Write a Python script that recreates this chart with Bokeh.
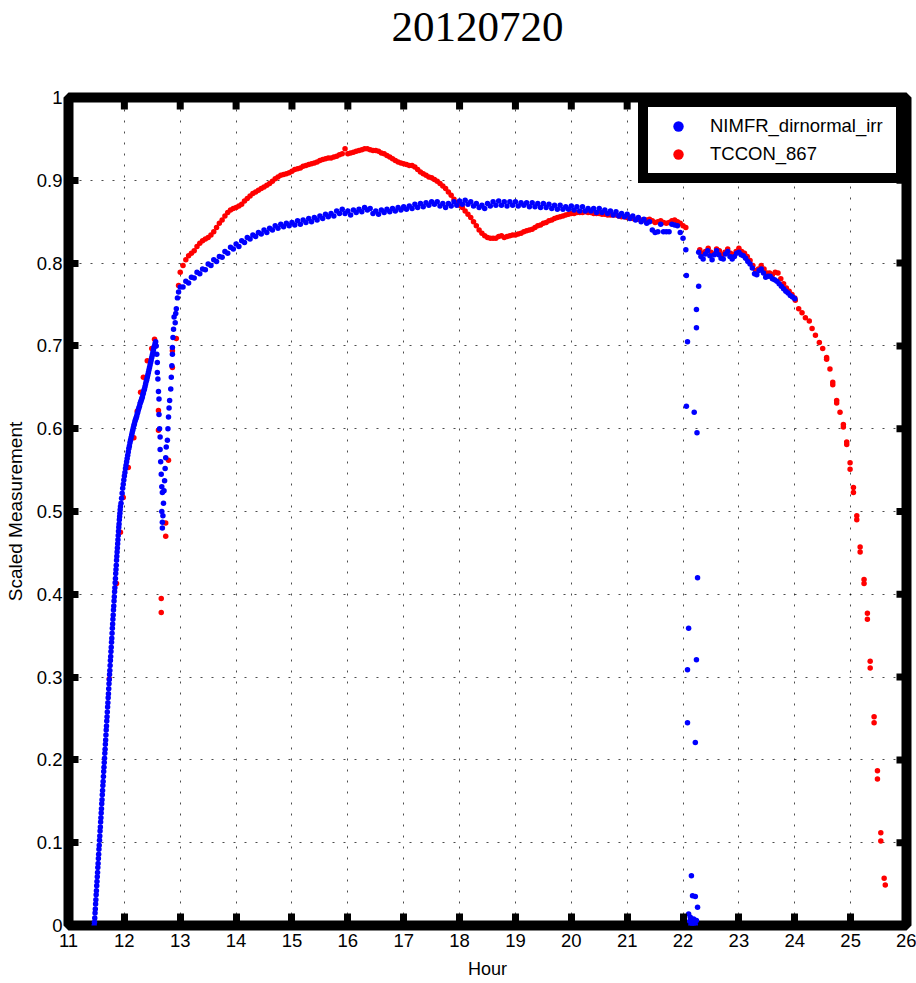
from bokeh.plotting import figure
from bokeh.layouts import column
from bokeh.models import FixedTicker, Legend, LegendItem, PrintfTickFormatter, Div
from bokeh.embed import file_html
from bokeh.resources import INLINE

TITLE = "20120720"
X_LABEL = "Hour"
Y_LABEL = "Scaled Measurement"
X_TICKS = [11, 12, 13, 14, 15, 16, 17, 18, 19, 20, 21, 22, 23, 24, 25, 26]
Y_TICKS = [0, 0.1, 0.2, 0.3, 0.4, 0.5, 0.6, 0.7, 0.8, 0.9, 1.0]
SERIES_NAMES = ["NIMFR_dirnormal_irr", "TCCON_867"]

# ---------------- NIMFR_dirnormal_irr (blue) ----------------
# rise, sampled every 0.005 h from 11.46 h
nimfr_rise1_start, nimfr_rise1_step = 11.46, 0.005
nimfr_rise1 = [0.000, 0.004, 0.009, 0.015, 0.020, 0.026, 0.031, 0.037, 0.042, 0.048,
               0.053, 0.059, 0.064, 0.070, 0.075, 0.081, 0.086, 0.092, 0.097, 0.103,
               0.108, 0.114, 0.119, 0.125, 0.130, 0.136, 0.141, 0.147, 0.152, 0.158,
               0.163, 0.169, 0.174, 0.180, 0.186, 0.191, 0.197, 0.202, 0.208, 0.213,
               0.219, 0.224, 0.230, 0.236, 0.241, 0.247, 0.252, 0.258, 0.264, 0.269,
               0.275, 0.280, 0.286, 0.292, 0.297, 0.303, 0.308, 0.314, 0.320, 0.325,
               0.331, 0.336, 0.342, 0.347, 0.353, 0.359, 0.364, 0.370, 0.375, 0.381,
               0.386, 0.392, 0.397, 0.403, 0.408, 0.414, 0.419, 0.425, 0.430, 0.435,
               0.441, 0.446, 0.451, 0.456, 0.461, 0.466, 0.471, 0.476, 0.481, 0.485,
               0.490, 0.494, 0.498, 0.502, 0.506]
# rise continued, every 0.01 h from 11.94 h
nimfr_rise2_start, nimfr_rise2_step = 11.94, 0.01
nimfr_rise2 = [0.510, 0.516, 0.522, 0.528, 0.533, 0.538, 0.543, 0.547, 0.552, 0.556,
               0.560, 0.564, 0.568, 0.572, 0.576, 0.579, 0.583, 0.586, 0.589, 0.592,
               0.595, 0.598, 0.601, 0.604, 0.606, 0.609, 0.611, 0.613, 0.615, 0.618,
               0.620, 0.623, 0.625, 0.627, 0.630, 0.632, 0.634, 0.636, 0.638, 0.641,
               0.643, 0.646, 0.648, 0.651, 0.654, 0.657, 0.659, 0.662, 0.665, 0.668,
               0.671, 0.674, 0.677, 0.680, 0.683, 0.686, 0.689, 0.692, 0.695, 0.698,
               0.700, 0.703, 0.705]
# cloud dip near 12.6 h
nimfr_dip_hours = [12.57, 12.58, 12.59, 12.59, 12.60, 12.61, 12.62, 12.62, 12.63, 12.64,
                   12.64, 12.65, 12.66, 12.67, 12.68, 12.67, 12.68, 12.68, 12.69, 12.70,
                   12.71, 12.72, 12.73, 12.74, 12.75, 12.77, 12.78, 12.79, 12.80, 12.81,
                   12.83, 12.84, 12.85, 12.86, 12.86, 12.87, 12.88, 12.89, 12.91, 12.92,
                   12.93, 12.95, 12.97]
nimfr_dip_vals = [0.700, 0.690, 0.680, 0.668, 0.660, 0.645, 0.636, 0.617, 0.600, 0.590,
                  0.575, 0.560, 0.545, 0.530, 0.523, 0.500, 0.487, 0.480, 0.495, 0.510,
                  0.525, 0.537, 0.552, 0.565, 0.578, 0.586, 0.600, 0.614, 0.625, 0.634,
                  0.648, 0.662, 0.676, 0.690, 0.698, 0.710, 0.720, 0.735, 0.728, 0.739,
                  0.745, 0.758, 0.765]
# plateau, every 0.05 h from 13.00 h
nimfr_day_start, nimfr_day_step = 13.00, 0.05
nimfr_day = [0.771, 0.771, 0.778, 0.776, 0.783, 0.782, 0.789, 0.787, 0.793, 0.792,
             0.799, 0.797, 0.804, 0.802, 0.808, 0.807, 0.814, 0.812, 0.819, 0.817,
             0.823, 0.820, 0.827, 0.825, 0.831, 0.829, 0.834, 0.832, 0.837, 0.835,
             0.840, 0.837, 0.842, 0.840, 0.845, 0.842, 0.847, 0.844, 0.848, 0.845,
             0.849, 0.846, 0.851, 0.847, 0.852, 0.849, 0.854, 0.850, 0.855, 0.852,
             0.857, 0.854, 0.859, 0.856, 0.860, 0.857, 0.863, 0.860, 0.865, 0.860,
             0.863, 0.858, 0.864, 0.861, 0.865, 0.862, 0.867, 0.864, 0.866, 0.860,
             0.863, 0.859, 0.864, 0.861, 0.865, 0.862, 0.866, 0.863, 0.867, 0.864,
             0.868, 0.865, 0.869, 0.866, 0.871, 0.867, 0.872, 0.868, 0.873, 0.870,
             0.874, 0.871, 0.874, 0.869, 0.872, 0.867, 0.872, 0.869, 0.874, 0.870,
             0.875, 0.871, 0.876, 0.871, 0.874, 0.869, 0.872, 0.867, 0.870, 0.866,
             0.872, 0.869, 0.874, 0.870, 0.875, 0.870, 0.874, 0.869, 0.874, 0.870,
             0.874, 0.869, 0.873, 0.870, 0.873, 0.868, 0.873, 0.868, 0.872, 0.867,
             0.872, 0.867, 0.871, 0.866, 0.870, 0.865, 0.870, 0.865, 0.868, 0.865,
             0.869, 0.864, 0.868, 0.863, 0.868, 0.863, 0.866, 0.863, 0.866, 0.861,
             0.866, 0.861, 0.864, 0.860, 0.863, 0.858, 0.862, 0.857, 0.860, 0.856,
             0.859, 0.854, 0.857, 0.852, 0.855, 0.850, 0.853, 0.848, 0.850, 0.840,
             0.837, 0.838, 0.847, 0.838, 0.838, 0.838, 0.847, 0.846, 0.845, 0.837,
             0.830, 0.816]
# drop-out near 22.2 h
nimfr_gap_hours = [22.06, 22.28, 22.24, 22.24, 22.08, 22.06, 22.20, 22.25, 22.26, 22.10,
                   22.24, 22.08, 22.08, 22.22, 22.15, 22.17, 22.22, 22.26, 22.10, 22.12,
                   22.14, 22.16, 22.18, 22.20, 22.22, 22.24, 22.13, 22.19]
nimfr_gap_vals = [0.785, 0.772, 0.744, 0.722, 0.705, 0.627, 0.620, 0.595, 0.420, 0.359,
                  0.321, 0.309, 0.245, 0.221, 0.060, 0.036, 0.035, 0.022, 0.014, 0.005,
                  0.000, 0.002, 0.000, 0.004, 0.001, 0.006, 0.010, 0.008]
# evening, every 0.04 h from 22.28 h
nimfr_eve_start, nimfr_eve_step = 22.28, 0.04
nimfr_eve = [0.813, 0.808, 0.805, 0.811, 0.815, 0.809, 0.804, 0.810, 0.815, 0.810,
             0.806, 0.805, 0.811, 0.814, 0.808, 0.805, 0.808, 0.812, 0.813, 0.810,
             0.809, 0.806, 0.802, 0.799, 0.794, 0.787, 0.786, 0.791, 0.793, 0.788,
             0.783, 0.784, 0.784, 0.781, 0.780, 0.778, 0.775, 0.772, 0.769, 0.766,
             0.764, 0.761, 0.759, 0.757]

# ---------------- TCCON_867 (red) ----------------
tccon_rise_hours = [11.73, 11.86, 11.93, 11.98, 12.07, 12.17, 12.23, 12.29, 12.34, 12.41,
                    12.49, 12.54, 12.61, 12.61, 12.66, 12.66, 12.74, 12.74, 12.79, 12.86,
                    12.86, 12.93, 12.97]
tccon_rise_vals = [0.298, 0.413, 0.475, 0.517, 0.553, 0.589, 0.621, 0.644, 0.662, 0.682,
                   0.697, 0.708, 0.622, 0.598, 0.395, 0.378, 0.486, 0.470, 0.562, 0.674,
                   0.694, 0.709, 0.773]
tccon_day_start, tccon_day_step = 13.00, 0.05
tccon_day = [0.789, 0.797, 0.804, 0.809, 0.812, 0.815, 0.820, 0.824, 0.827, 0.829,
             0.831, 0.834, 0.838, 0.843, 0.848, 0.852, 0.857, 0.861, 0.864, 0.866,
             0.867, 0.869, 0.871, 0.875, 0.878, 0.881, 0.884, 0.886, 0.888, 0.890,
             0.892, 0.894, 0.896, 0.899, 0.902, 0.904, 0.906, 0.907, 0.908, 0.909,
             0.911, 0.913, 0.914, 0.915, 0.917, 0.918, 0.919, 0.920, 0.921, 0.922,
             0.924, 0.925, 0.926, 0.927, 0.927, 0.928, 0.929, 0.931, 0.932, 0.938,
             0.932, 0.933, 0.934, 0.935, 0.936, 0.937, 0.938, 0.938, 0.937, 0.936,
             0.936, 0.935, 0.933, 0.932, 0.930, 0.928, 0.926, 0.924, 0.922, 0.921,
             0.920, 0.919, 0.918, 0.918, 0.916, 0.913, 0.910, 0.908, 0.906, 0.904,
             0.903, 0.901, 0.899, 0.896, 0.893, 0.890, 0.886, 0.882, 0.877, 0.873,
             0.870, 0.867, 0.863, 0.859, 0.855, 0.850, 0.845, 0.840, 0.836, 0.833,
             0.831, 0.830, 0.830, 0.830, 0.832, 0.833, 0.831, 0.832, 0.833, 0.834,
             0.834, 0.835, 0.836, 0.838, 0.839, 0.840, 0.841, 0.843, 0.845, 0.846,
             0.848, 0.849, 0.851, 0.852, 0.854, 0.855, 0.856, 0.857, 0.858, 0.859,
             0.860, 0.860, 0.861, 0.861, 0.861, 0.862, 0.861, 0.861, 0.860, 0.860,
             0.860, 0.859, 0.859, 0.858, 0.858, 0.858, 0.858, 0.857, 0.856, 0.856,
             0.855, 0.855, 0.854, 0.853, 0.853, 0.852, 0.852, 0.852, 0.853, 0.851,
             0.849, 0.850, 0.851, 0.849, 0.848, 0.849, 0.851, 0.852, 0.850, 0.848,
             0.845, 0.843]
tccon_eve_start, tccon_eve_step = 22.30, 0.05
tccon_eve = [0.816, 0.812, 0.814, 0.818, 0.813, 0.811, 0.817, 0.815, 0.810, 0.813,
             0.817, 0.812, 0.810, 0.814, 0.818, 0.814, 0.812, 0.808, 0.803, 0.797,
             0.791, 0.793, 0.797, 0.793, 0.788, 0.788, 0.786, 0.789, 0.788, 0.781,
             0.775, 0.770, 0.766, 0.762, 0.758]
tccon_tail_hours = [24.01, 24.07, 24.13, 24.19, 24.26, 24.31, 24.37, 24.44, 24.50, 24.57,
                    24.57, 24.63, 24.68, 24.68, 24.75, 24.75, 24.81, 24.87, 24.87, 24.93,
                    24.93, 24.99, 24.99, 25.05, 25.05, 25.11, 25.11, 25.17, 25.17, 25.24,
                    25.24, 25.30, 25.30, 25.35, 25.35, 25.42, 25.42, 25.48, 25.48, 25.54,
                    25.54, 25.60, 25.62]
tccon_tail_vals = [0.755, 0.745, 0.740, 0.734, 0.730, 0.721, 0.713, 0.704, 0.697, 0.686,
                   0.684, 0.672, 0.656, 0.653, 0.634, 0.631, 0.620, 0.605, 0.602, 0.584,
                   0.581, 0.559, 0.551, 0.529, 0.523, 0.495, 0.490, 0.457, 0.451, 0.418,
                   0.413, 0.377, 0.370, 0.319, 0.311, 0.252, 0.245, 0.187, 0.177, 0.112,
                   0.102, 0.057, 0.049]


def sampled(start, step, vals):
    return [round(start + step * i, 4) for i in range(len(vals))]


blue_x = (sampled(nimfr_rise1_start, nimfr_rise1_step, nimfr_rise1)
          + sampled(nimfr_rise2_start, nimfr_rise2_step, nimfr_rise2)
          + nimfr_dip_hours
          + sampled(nimfr_day_start, nimfr_day_step, nimfr_day)
          + nimfr_gap_hours
          + sampled(nimfr_eve_start, nimfr_eve_step, nimfr_eve))
blue_y = nimfr_rise1 + nimfr_rise2 + nimfr_dip_vals + nimfr_day + nimfr_gap_vals + nimfr_eve

red_x = (tccon_rise_hours
         + sampled(tccon_day_start, tccon_day_step, tccon_day)
         + sampled(tccon_eve_start, tccon_eve_step, tccon_eve)
         + tccon_tail_hours)
red_y = tccon_rise_vals + tccon_day + tccon_eve + tccon_tail_vals

SANS = "Liberation Sans"
X_MIN, X_MAX = X_TICKS[0], X_TICKS[-1]
Y_MIN, Y_MAX = Y_TICKS[0], Y_TICKS[-1]

# title strip above the figure (MATLAB places it a little left of the frame centre)
title_div = Div(text=TITLE, width=877, height=82, margin=(5, 0, 0, 39),
                styles={"font-family": "Liberation Serif", "font-size": "43px",
                        "line-height": "43px", "text-align": "center", "color": "black"})

fig = figure(width=916, height=896, x_range=(X_MIN, X_MAX), y_range=(Y_MIN, Y_MAX),
             output_backend="svg", toolbar_location=None, title=None,
             min_border_left=68, min_border_right=10, min_border_top=10, min_border_bottom=58,
             x_axis_label=X_LABEL, y_axis_label=Y_LABEL)

fig.background_fill_color = "white"
fig.border_fill_color = "white"
fig.outline_line_color = "black"
fig.outline_line_width = 10

for g in (fig.xgrid[0], fig.ygrid[0]):
    g.grid_line_color = "black"
    g.grid_line_alpha = 0.7
    g.grid_line_dash = "2 9"
    g.grid_line_width = 1

fig.xgrid[0].ticker = FixedTicker(ticks=X_TICKS)
fig.ygrid[0].ticker = FixedTicker(ticks=Y_TICKS)

xa = fig.xaxis[0]
ya = fig.yaxis[0]
xa.ticker = FixedTicker(ticks=X_TICKS)
ya.ticker = FixedTicker(ticks=Y_TICKS)
ya.formatter = PrintfTickFormatter(format="%g")
for ax, tin in ((xa, 12), (ya, 10)):
    ax.axis_line_color = None
    ax.major_tick_in = tin
    ax.major_tick_out = 0
    ax.major_tick_line_width = 7
    ax.major_tick_line_color = "black"
    ax.minor_tick_line_color = None
    ax.major_label_text_font = SANS
    ax.major_label_text_font_size = "18.5px"
    ax.major_label_text_color = "black"
    ax.axis_label_text_font = SANS
    ax.axis_label_text_font_style = "normal"
    ax.axis_label_text_color = "black"
xa.major_label_standoff = 8
ya.major_label_standoff = 6
xa.axis_label_standoff = 9
ya.axis_label_standoff = 8
xa.axis_label_text_font_size = "18px"
ya.axis_label_text_font_size = "19px"

# tick marks on the top and right edges of the box (half of each stub is clipped by the frame)
fig.rect(x=X_TICKS, y=[Y_MAX] * len(X_TICKS), width=7, height=24,
         width_units="screen", height_units="screen", color="black", line_width=0)
fig.rect(x=[X_MAX] * len(Y_TICKS), y=Y_TICKS, width=20, height=7,
         width_units="screen", height_units="screen", color="black", line_width=0)

r_red = fig.scatter(red_x, red_y, size=5.5, color="red", line_width=0)
r_blue = fig.scatter(blue_x, blue_y, size=5.5, color="blue", line_width=0)

legend = Legend(items=[LegendItem(label=SERIES_NAMES[0], renderers=[r_blue]),
                       LegendItem(label=SERIES_NAMES[1], renderers=[r_red])],
                location="top_right")
legend.margin = 0
legend.padding = 6
legend.spacing = 2
legend.glyph_width = 48
legend.glyph_height = 26
legend.label_height = 26
legend.label_width = 180
legend.label_standoff = 8
legend.label_text_font = SANS
legend.label_text_font_size = "18.5px"
legend.label_text_color = "black"
legend.border_line_color = "black"
legend.border_line_width = 10
legend.border_line_alpha = 1
legend.background_fill_alpha = 1
fig.add_layout(legend, "center")

p = column(title_div, fig, spacing=0)

open("out.html", "w").write(file_html(p, INLINE))
